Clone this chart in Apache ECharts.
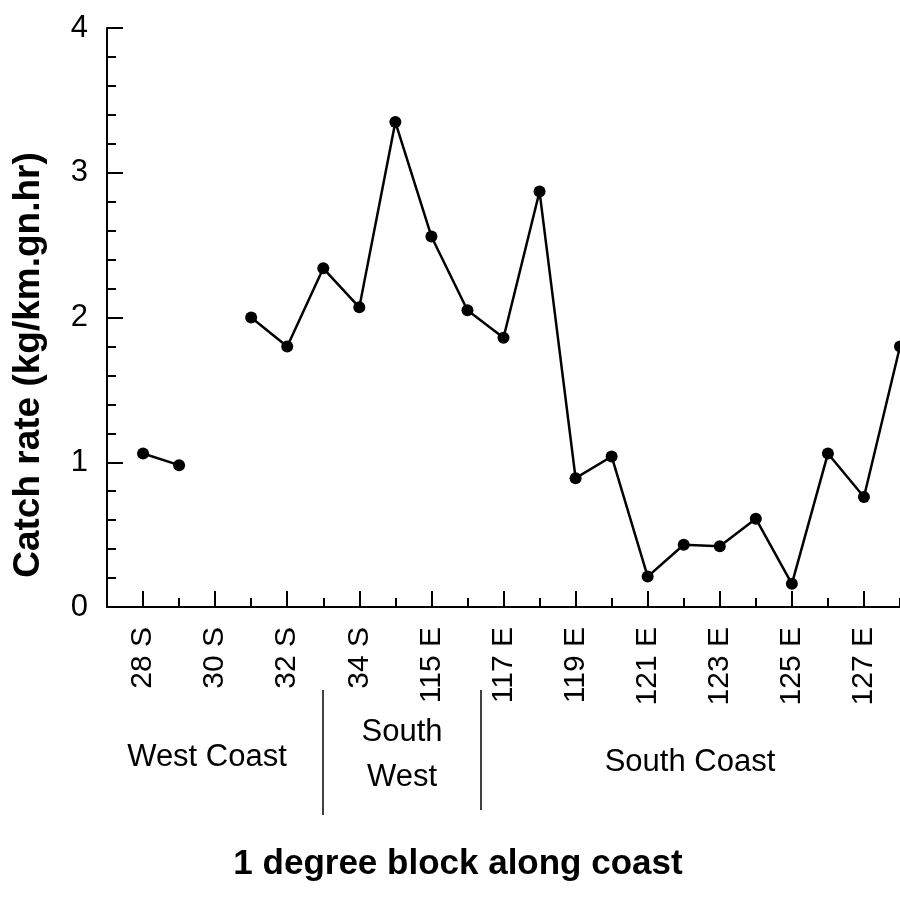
<!DOCTYPE html>
<html>
<head>
<meta charset="utf-8">
<script src="https://cdn.jsdelivr.net/npm/echarts@6/dist/echarts.min.js"></script>
<style>
html,body{margin:0;padding:0;background:#fff;}
#chart{width:900px;height:899px;}
</style>
</head>
<body>
<div id="chart"></div>
<script>
// Categories (index 0 is an empty slot at the y-axis)
const categories = ['', '28 S', '29 S', '30 S', '31 S', '32 S', '33 S', '34 S', '35 S',
  '115 E', '116 E', '117 E', '118 E', '119 E', '120 E', '121 E', '122 E', '123 E',
  '124 E', '125 E', '126 E', '127 E', '128 E'];
// Catch rate values (kg/km.gn.hr)
const catchRate = [null, 1.06, 0.98, null, 2.00, 1.80, 2.34, 2.07, 3.35,
  2.56, 2.05, 1.86, 2.87, 0.89, 1.04, 0.21, 0.43, 0.42,
  0.61, 0.16, 1.06, 0.76, 1.80];
const yTicks = [0, 1, 2, 3, 4];
const regionLabels = ['West Coast', 'South\nWest', 'South Coast'];
const yTitle = 'Catch rate (kg/km.gn.hr)';
const xTitle = '1 degree block along coast';

const FONT = "'Liberation Sans', Arial, Helvetica, sans-serif";
const chart = echarts.init(document.getElementById('chart'), null, {renderer: 'canvas'});

const option = {
  backgroundColor: '#fff',
  animation: false,
  grid: {left: 107, top: 28, right: -4.5, bottom: 292, containLabel: false},
  xAxis: [{
    type: 'category',
    data: categories,
    boundaryGap: false,
    axisLine: {show: true, lineStyle: {color: '#000', width: 2}},
    axisTick: {show: true, inside: true, length: 16, lineStyle: {color: '#000', width: 2},
      interval: function (i) { return i % 2 === 1; }},
    axisLabel: {show: true, rotate: 90, margin: 20, color: '#000', fontSize: 30, fontFamily: FONT,
      interval: function (i) { return i % 2 === 1; }},
    splitLine: {show: false}
  }, {
    type: 'category',
    data: categories,
    boundaryGap: false,
    position: 'bottom',
    axisLine: {show: false},
    axisTick: {show: true, inside: true, length: 9, lineStyle: {color: '#000', width: 2},
      interval: function (i) { return i % 2 === 0 && i > 0; }},
    axisLabel: {show: false},
    splitLine: {show: false}
  }],
  yAxis: {
    type: 'value',
    min: yTicks[0],
    max: yTicks[yTicks.length - 1],
    interval: 1,
    axisLine: {show: true, lineStyle: {color: '#000', width: 2}},
    axisTick: {show: true, inside: true, length: 16, lineStyle: {color: '#000', width: 2}},
    minorTick: {show: true, splitNumber: 5, length: 9, lineStyle: {color: '#000', width: 2}},
    axisLabel: {margin: 19, color: '#000', fontSize: 31, fontFamily: FONT},
    splitLine: {show: false},
    minorSplitLine: {show: false}
  },
  series: [{
    type: 'line',
    xAxisIndex: 0,
    data: catchRate,
    connectNulls: false,
    symbol: 'circle',
    symbolSize: 12,
    showSymbol: true,
    itemStyle: {color: '#000'},
    lineStyle: {color: '#000', width: 2.5},
    clip: false
  }],
  graphic: [
    {type: 'text', x: 29, y: 365, rotation: Math.PI / 2,
      style: {text: yTitle, fill: '#000', font: 'bold 37px ' + FONT, textAlign: 'center', textVerticalAlign: 'middle'}},
    {type: 'text', x: 458, y: 864,
      style: {text: xTitle, fill: '#000', font: 'bold 35px ' + FONT, textAlign: 'center', textVerticalAlign: 'middle'}},
    {type: 'text', x: 207, y: 757,
      style: {text: regionLabels[0], fill: '#000', font: '31px ' + FONT, textAlign: 'center', textVerticalAlign: 'middle'}},
    {type: 'text', x: 402, y: 755,
      style: {text: regionLabels[1], fill: '#000', font: '31px ' + FONT, textAlign: 'center', textVerticalAlign: 'middle', lineHeight: 45}},
    {type: 'text', x: 690, y: 762,
      style: {text: regionLabels[2], fill: '#000', font: '31px ' + FONT, textAlign: 'center', textVerticalAlign: 'middle'}},
    {type: 'line', shape: {x1: 323, y1: 690, x2: 323, y2: 815}, style: {stroke: '#000', lineWidth: 1.5}},
    {type: 'line', shape: {x1: 481, y1: 690, x2: 481, y2: 810}, style: {stroke: '#000', lineWidth: 1.5}}
  ]
};
chart.setOption(option);
</script>
</body>
</html>
